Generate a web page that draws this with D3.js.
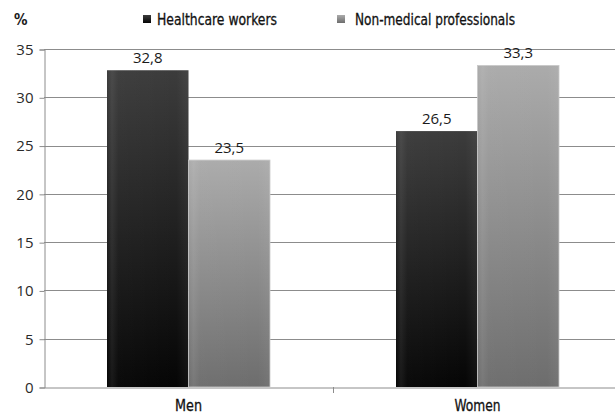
<!DOCTYPE html>
<html>
<head>
<meta charset="utf-8">
<script src="https://cdn.jsdelivr.net/npm/d3@7"></script>
<style>
  html, body { margin: 0; padding: 0; background: #fff; }
  svg { display: block; }
  .narrow { font-family: "Liberation Sans Narrow", "Arial Narrow", "DejaVu Sans Condensed", "Roboto Condensed", sans-serif; }
  .tick-text { font-family: "Open Sans", "Noto Sans", sans-serif; }
</style>
</head>
<body>
<svg id="chart" width="615" height="416"></svg>
<script>
// Prevalence by sex and occupational group (%)
const categories = ["Men", "Women"];
const seriesNames = ["Healthcare workers", "Non-medical professionals"];
const healthcareWorkers = [32.8, 26.5];
const nonMedical = [23.5, 33.3];
const yTicks = [0, 5, 10, 15, 20, 25, 30, 35];
const valueLabels = [["32,8", "26,5"], ["23,5", "33,3"]];

const seriesValues = [healthcareWorkers, nonMedical];
const rows = categories.map((c, i) => ({
  category: c,
  bars: seriesNames.map((s, j) => ({ series: s, idx: j, value: seriesValues[j][i], label: valueLabels[j][i] }))
}));

const svg = d3.select("#chart");
const plotLeft = 44, plotRight = 622, plotTop = 49, plotBottom = 387;

const y = d3.scaleLinear().domain([0, 35]).range([plotBottom, plotTop]);
const x0 = d3.scaleBand().domain(categories).range([plotLeft, plotRight]).padding(0);
const groupW = 163;
const x1 = d3.scaleBand().domain(seriesNames).range([0, groupW]).padding(0);

// gradients
const defs = svg.append("defs");
const grads = [
  { id: "g-dark", stops: [["0%", "#3c3c3c"], ["100%", "#050505"]] },
  { id: "g-light", stops: [["0%", "#ababab"], ["100%", "#6d6d6d"]] }
];
grads.forEach(g => {
  const lg = defs.append("linearGradient").attr("id", g.id)
    .attr("x1", 0).attr("y1", 0).attr("x2", 0).attr("y2", 1);
  g.stops.forEach(s => lg.append("stop").attr("offset", s[0]).attr("stop-color", s[1]));
});
const sheen = defs.append("linearGradient").attr("id", "g-sheen")
  .attr("x1", 0).attr("y1", 0).attr("x2", 1).attr("y2", 0);
[["0%", 0.0], ["6%", 0.08], ["14%", 0.02], ["85%", 0.0], ["100%", 0.05]].forEach(s =>
  sheen.append("stop").attr("offset", s[0]).attr("stop-color", "#fff").attr("stop-opacity", s[1]));

// horizontal gridlines
svg.append("g").selectAll("line").data(yTicks.filter(t => t > 0)).join("line")
  .attr("x1", plotLeft).attr("x2", 615)
  .attr("y1", d => Math.round(y(d)) + 0.5).attr("y2", d => Math.round(y(d)) + 0.5)
  .attr("stroke", "#8c8c8c").attr("stroke-width", 1);

// y axis
const yAxis = d3.axisLeft(y).tickValues(yTicks).tickSize(5).tickPadding(6).tickFormat(d3.format("d"));
const gy = svg.append("g").attr("transform", `translate(${plotLeft + 0.5},0.5)`).call(yAxis);
gy.select(".domain").attr("stroke", "#8c8c8c");
gy.selectAll(".tick line").attr("stroke", "#8c8c8c");
gy.selectAll(".tick text").attr("class", "tick-text").attr("font-size", 15).attr("fill", "#2a2a2a");

// x axis
const catWidths = { Men: 27, Women: 46 };
const xAxis = d3.axisBottom(x0).tickSize(0).tickPadding(9);
const gx = svg.append("g").attr("transform", `translate(0,${plotBottom + 0.5})`).call(xAxis);
gx.select(".domain").attr("stroke", "#8c8c8c");
gx.selectAll(".tick text").attr("class", "narrow").attr("font-size", 16).attr("fill", "#111")
  .attr("font-weight", "normal").attr("dy", "0.9em")
  .attr("textLength", d => catWidths[d]).attr("lengthAdjust", "spacingAndGlyphs")
  .attr("stroke", "#111").attr("stroke-width", 0.3);
// boundary ticks between categories
svg.append("g").selectAll("line").data(categories.slice(1)).join("line")
  .attr("x1", d => Math.round(x0(d)) + 0.5).attr("x2", d => Math.round(x0(d)) + 0.5)
  .attr("y1", plotBottom).attr("y2", plotBottom + 6)
  .attr("stroke", "#8c8c8c");

// bars
const groups = svg.append("g").selectAll("g").data(rows).join("g")
  .attr("transform", d => `translate(${x0(d.category) + (x0.bandwidth() - groupW) / 2},0)`);

groups.selectAll("rect.bar").data(d => d.bars).join("rect")
  .attr("class", "bar")
  .attr("x", d => x1(d.series)).attr("width", x1.bandwidth())
  .attr("y", d => y(d.value)).attr("height", d => y(0) - y(d.value))
  .attr("fill", d => d.idx === 0 ? "url(#g-dark)" : "url(#g-light)")
  .attr("stroke", d => d.idx === 0 ? "none" : "#c8c8c8").attr("stroke-width", 0.8);

groups.selectAll("rect.sheen").data(d => d.bars).join("rect")
  .attr("class", "sheen")
  .attr("x", d => x1(d.series)).attr("width", x1.bandwidth())
  .attr("y", d => y(d.value)).attr("height", d => y(0) - y(d.value))
  .attr("fill", "url(#g-sheen)");

groups.selectAll("text.val").data(d => d.bars).join("text")
  .attr("class", "val tick-text")
  .attr("x", d => x1(d.series) + x1.bandwidth() / 2)
  .attr("y", d => y(d.value) - 7)
  .attr("text-anchor", "middle").attr("font-size", 15).attr("fill", "#1a1a1a")
  .text(d => d.label);

// unit label
svg.append("text").attr("class", "narrow").attr("x", 14).attr("y", 25)
  .attr("font-size", 15).attr("font-weight", "bold").attr("fill", "#1a1a1a").text("%");

// legend
const legendX = [143, 337];
const legendW = [120, 160];
const legend = svg.append("g").selectAll("g").data(seriesNames).join("g")
  .attr("transform", (d, i) => `translate(${legendX[i]},15)`);
legend.append("rect").attr("width", 8).attr("height", 8)
  .attr("fill", (d, i) => i === 0 ? "url(#g-dark)" : "url(#g-light)");
legend.append("text").attr("class", "narrow")
  .attr("x", (d, i) => i === 0 ? 14 : 18).attr("y", 10)
  .attr("font-size", 16).attr("fill", "#111")
  .attr("stroke", "#111").attr("stroke-width", 0.3)
  .attr("textLength", (d, i) => legendW[i]).attr("lengthAdjust", "spacingAndGlyphs")
  .text(d => d);
</script>
</body>
</html>
